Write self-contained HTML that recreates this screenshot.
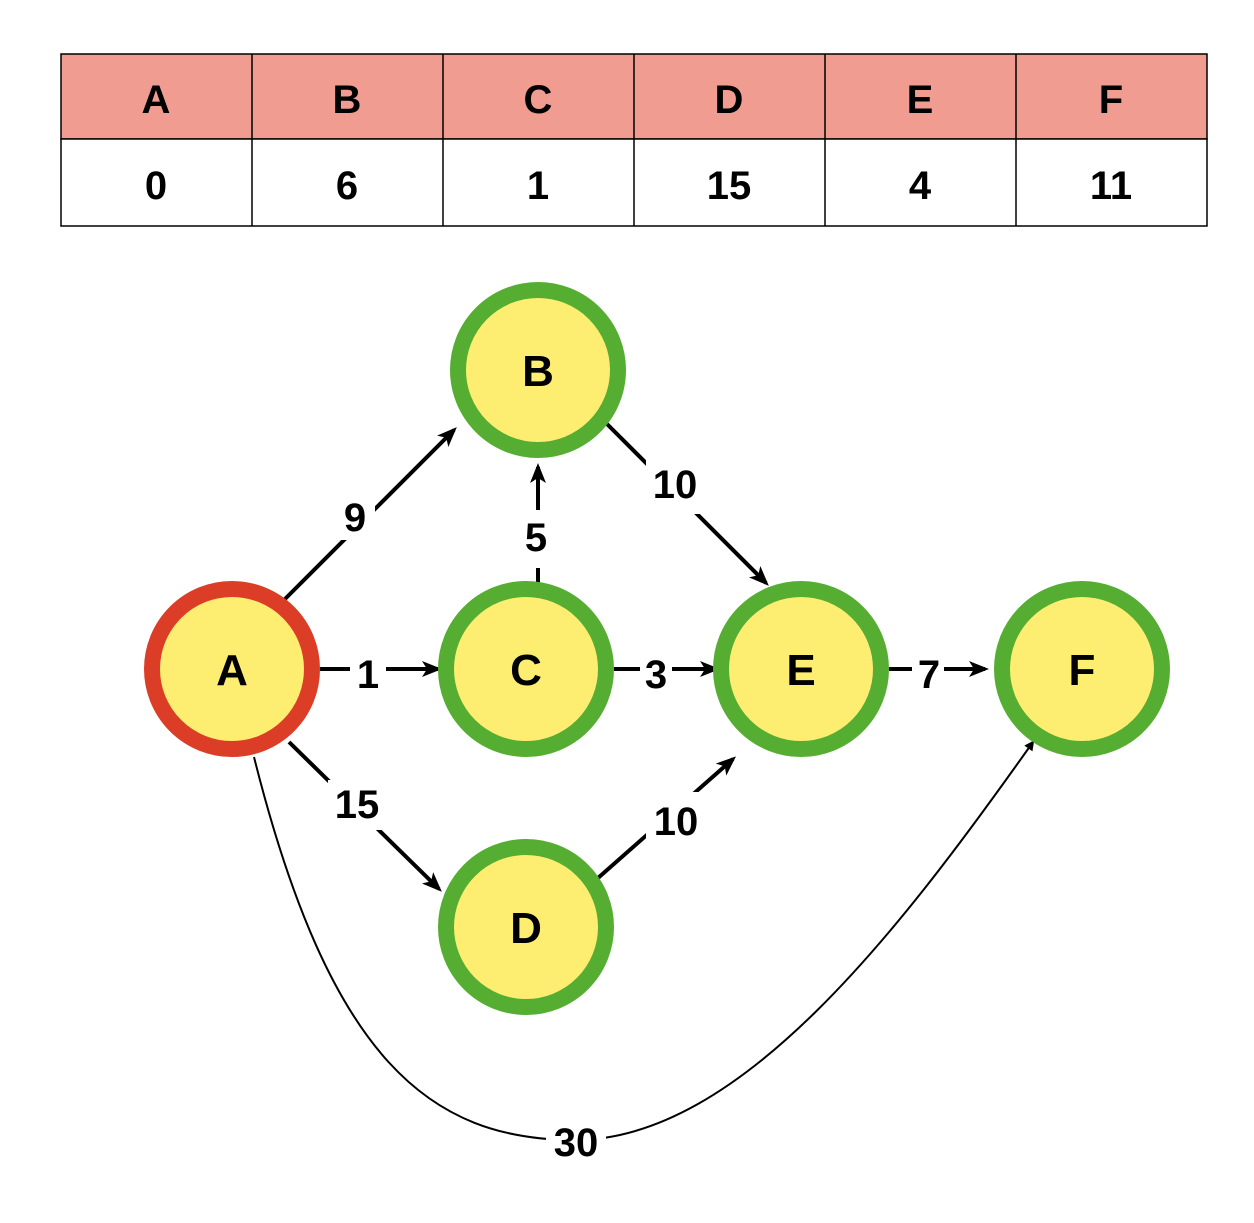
<!DOCTYPE html>
<html><head><style>
body{margin:0;background:#fff;width:1254px;height:1218px;overflow:hidden;font-family:"Liberation Sans",sans-serif;}
</style></head><body>
<svg width="1254" height="1218" xmlns="http://www.w3.org/2000/svg">
<defs><marker id="ar" markerWidth="10" markerHeight="10" refX="8" refY="5" orient="auto" markerUnits="userSpaceOnUse" viewBox="0 0 10 10"><path d="M0,0 L10,5 L0,10 z" fill="#000"/></marker>
<marker id="ar2" markerWidth="20" markerHeight="20" refX="16" refY="10" orient="auto" markerUnits="userSpaceOnUse" viewBox="0 0 20 20"><path d="M0,2 L20,10 L0,18 L5,10 z" fill="#000"/></marker></defs>
<!-- table -->
<g stroke="#000" stroke-width="1.5">
<rect x="61" y="54" width="1146" height="85" fill="#f19c91"/>
<rect x="61" y="139" width="1146" height="87" fill="#fff"/>
<line x1="252" y1="54" x2="252" y2="226"/><line x1="443" y1="54" x2="443" y2="226"/><line x1="634" y1="54" x2="634" y2="226"/><line x1="825" y1="54" x2="825" y2="226"/><line x1="1016" y1="54" x2="1016" y2="226"/>
</g>
<g font-weight="bold" font-size="40" text-anchor="middle" font-family="Liberation Sans,sans-serif">
<text x="156" y="113">A</text><text x="347" y="113">B</text><text x="538" y="113">C</text><text x="729" y="113">D</text><text x="920" y="113">E</text><text x="1111" y="113">F</text>
<text x="156" y="199">0</text><text x="347" y="199">6</text><text x="538" y="199">1</text><text x="729" y="199">15</text><text x="920" y="199">4</text><text x="1111" y="199">11</text>
</g>
<!-- edges -->
<g stroke="#000" stroke-width="4" fill="none">
<line x1="284" y1="600" x2="454" y2="430" marker-end="url(#ar2)"/>
<line x1="538" y1="598" x2="538" y2="467" marker-end="url(#ar2)"/>
<line x1="607" y1="424" x2="766" y2="583" marker-end="url(#ar2)"/>
<line x1="320" y1="669" x2="438" y2="669" marker-end="url(#ar2)"/>
<line x1="614" y1="669" x2="716" y2="669" marker-end="url(#ar2)"/>
<line x1="889" y1="669" x2="985" y2="669" marker-end="url(#ar2)"/>
<line x1="289" y1="742" x2="439" y2="889" marker-end="url(#ar2)"/>
<line x1="598" y1="878" x2="733" y2="759" marker-end="url(#ar2)"/>
</g>
<path d="M254,757 C330,1060 430,1140 575,1140 C740,1140 900,930 1033,742" stroke="#000" stroke-width="2" fill="none" marker-end="url(#ar)"/>
<!-- labels -->
<g font-weight="bold" font-size="40" text-anchor="middle" font-family="Liberation Sans,sans-serif">
<rect x="335" y="490" width="40" height="50" fill="#fff"/><text x="355" y="531">9</text>
<rect x="518" y="510" width="38" height="58" fill="#fff"/><text x="536" y="551">5</text>
<rect x="646" y="458" width="58" height="56" fill="#fff"/><text x="675" y="498">10</text>
<rect x="350" y="648" width="36" height="46" fill="#fff"/><text x="368" y="688">1</text>
<rect x="640" y="648" width="32" height="46" fill="#fff"/><text x="656" y="688">3</text>
<rect x="912" y="648" width="32" height="46" fill="#fff"/><text x="929" y="688">7</text>
<rect x="328" y="780" width="58" height="50" fill="#fff"/><text x="357" y="818">15</text>
<rect x="646" y="792" width="58" height="56" fill="#fff"/><text x="676" y="835">10</text>
<rect x="546" y="1118" width="60" height="46" fill="#fff"/><text x="576" y="1156">30</text>
</g>
<!-- nodes -->
<g stroke-width="16" fill="#fdee72">
<circle cx="232" cy="669" r="80" stroke="#dc3d27"/>
<circle cx="538" cy="370" r="80" stroke="#55ad31"/>
<circle cx="526" cy="669" r="80" stroke="#55ad31"/>
<circle cx="801" cy="669" r="80" stroke="#55ad31"/>
<circle cx="1082" cy="669" r="80" stroke="#55ad31"/>
<circle cx="526" cy="927" r="80" stroke="#55ad31"/>
</g>
<g font-weight="bold" font-size="44" text-anchor="middle" font-family="Liberation Sans,sans-serif">
<text x="232" y="685">A</text><text x="538" y="386">B</text><text x="526" y="685">C</text><text x="801" y="685">E</text><text x="1082" y="685">F</text><text x="526" y="943">D</text>
</g>
</svg>
</body></html>
